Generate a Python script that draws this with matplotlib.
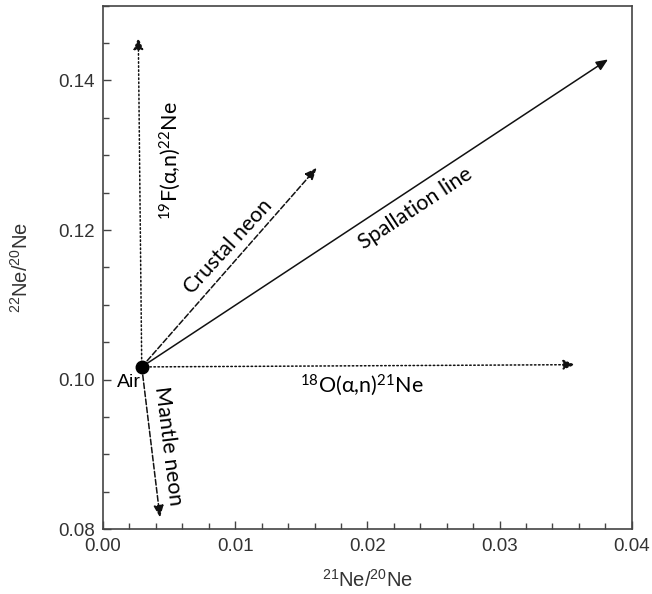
import matplotlib.pyplot as plt
from matplotlib.ticker import MultipleLocator

plt.rcParams["mathtext.default"] = "regular"

# air composition (start of all trends)
air = (0.00293, 0.1017)

# trend end points and line style of each trend
trend_names = ["Spallation", "Crustal", "19F", "18O", "Mantle"]
trend_x = [0.0382, 0.01616, 0.00267, 0.0357, 0.00431]
trend_y = [0.1428, 0.1283, 0.1457, 0.1020, 0.0816]
trend_styles = ["-", "--", ":", ":", "--"]

fig = plt.figure(figsize=(6.52, 5.94), dpi=100)
ax = fig.add_axes([0.158, 0.109, 0.811, 0.8816])

for name, x, y, ls in zip(trend_names, trend_x, trend_y, trend_styles):
    ax.annotate("", xy=(x, y), xytext=air,
                arrowprops=dict(arrowstyle="-|>,head_length=0.7,head_width=0.3",
                                linestyle=ls, color="#111111", lw=1.1,
                                shrinkA=0, shrinkB=0))

ax.plot(*air, "o", color="black", markersize=9, zorder=5)

lab_font = ["Lato", "DejaVu Sans"]
ax.text(0.00197, 0.0996, "Air", fontsize=14, family=["Liberation Sans"],
        ha="center", va="center")
ax.text(0.02367, 0.1229, "Spallation line", fontsize=15.5, family=lab_font,
        rotation=33.4, ha="center", va="center", rotation_mode="anchor")
ax.text(0.00945, 0.1178, "Crustal neon", fontsize=15.5, family=lab_font,
        rotation=47.5, ha="center", va="center", rotation_mode="anchor")
ax.text(0.00507, 0.1292, r"$^{19}$F($\alpha$,n)$^{22}$Ne", fontsize=15.5,
        family=lab_font, rotation=90, ha="center", va="center")
ax.text(0.01958, 0.0992, r"$^{18}$O($\alpha$,n)$^{21}$Ne", fontsize=15.5,
        family=lab_font, ha="center", va="center")
ax.text(0.00491, 0.0912, "Mantle neon", fontsize=15.5, family=lab_font,
        rotation=-83, ha="center", va="center", rotation_mode="anchor")

ax.set_xlim(0, 0.04)
ax.set_ylim(0.08, 0.15)
ax.xaxis.set_major_locator(MultipleLocator(0.01))
ax.xaxis.set_minor_locator(MultipleLocator(0.002))
ax.yaxis.set_major_locator(MultipleLocator(0.02))
ax.yaxis.set_minor_locator(MultipleLocator(0.005))
ax.xaxis.set_major_formatter(plt.FuncFormatter(lambda v, p: f"{v:.2f}"))
ax.yaxis.set_major_formatter(plt.FuncFormatter(lambda v, p: f"{v:.2f}"))

ax.tick_params(which="both", direction="in", color="#444444", width=1,
               labelsize=13.5, labelcolor="#333333")
ax.tick_params(which="major", length=6, pad=6)
ax.tick_params(which="minor", length=4)
for t in ax.get_xticklabels() + ax.get_yticklabels():
    t.set_family("Liberation Sans")
for s in ax.spines.values():
    s.set_color("#444444")
    s.set_linewidth(1.2)

ax.set_xlabel(r"$^{21}$Ne/$^{20}$Ne", fontsize=14.5, family="Liberation Sans",
              color="#333333")
ax.set_ylabel(r"$^{22}$Ne/$^{20}$Ne", fontsize=14.5, family="Liberation Sans",
              color="#333333")
ax.xaxis.set_label_coords(0.5, -0.076)
ax.yaxis.set_label_coords(-0.134, 0.5)

fig.savefig("out.png", dpi=100)
